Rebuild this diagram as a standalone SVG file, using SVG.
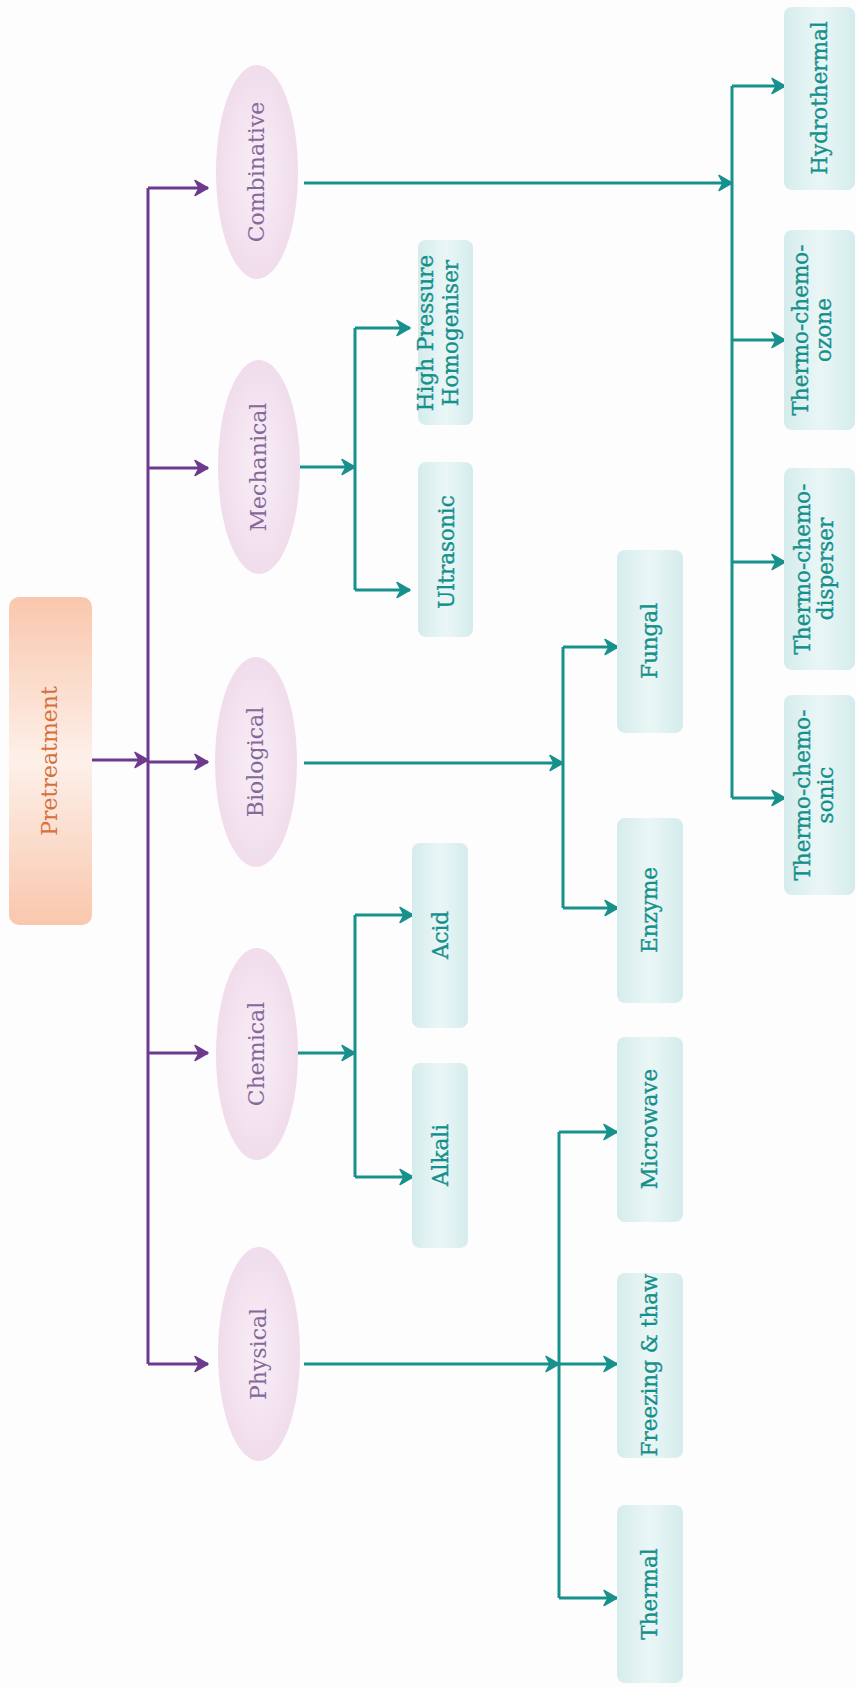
<svg xmlns="http://www.w3.org/2000/svg" width="856" height="1687" viewBox="0 0 856 1687">
<defs>
<style>
.lp{fill:none;stroke:#6d3b8e;stroke-width:3}
.lt{fill:none;stroke:#17918d;stroke-width:3}
.ap{marker-end:url(#mp)}
.at{marker-end:url(#mt)}
.ell{fill:url(#gE)}
.box{fill:url(#gT)}
.te{font-family:"DejaVu Serif","Liberation Serif",serif;font-size:22px;fill:#86689a;text-anchor:middle}
.tt{font-family:"DejaVu Serif","Liberation Serif",serif;font-size:21.5px;fill:#14908c;stroke:#14908c;stroke-width:0.35;text-anchor:middle}
.tp{font-family:"DejaVu Serif","Liberation Serif",serif;font-size:22px;fill:#d4713e;text-anchor:middle}
</style>
<radialGradient id="gE" cx="0.5" cy="0.5" r="0.6">
<stop offset="0" stop-color="#f8eef7"/>
<stop offset="1" stop-color="#efd9ea"/>
</radialGradient>
<linearGradient id="gT" x1="0" y1="0" x2="1" y2="0">
<stop offset="0" stop-color="#d5ecec"/>
<stop offset="0.5" stop-color="#eaf6f6"/>
<stop offset="1" stop-color="#d5ecec"/>
</linearGradient>
<linearGradient id="gP" x1="0" y1="0" x2="0" y2="1">
<stop offset="0" stop-color="#f9c7ad"/>
<stop offset="0.5" stop-color="#fdf0e9"/>
<stop offset="1" stop-color="#f9c7ad"/>
</linearGradient>
<marker id="mp" viewBox="-16 -10 18 20" markerWidth="18" markerHeight="20" refX="0" refY="0" orient="auto" markerUnits="userSpaceOnUse">
<path d="M-13,-7.5 L0,0 L-13,7.5 L-9,0 z" fill="#6d3b8e" stroke="#6d3b8e" stroke-width="1.5" stroke-linejoin="round"/>
</marker>
<marker id="mt" viewBox="-16 -10 18 20" markerWidth="18" markerHeight="20" refX="0" refY="0" orient="auto" markerUnits="userSpaceOnUse">
<path d="M-13,-7.5 L0,0 L-13,7.5 L-9,0 z" fill="#17918d" stroke="#17918d" stroke-width="1.5" stroke-linejoin="round"/>
</marker>
</defs>
<rect x="0" y="0" width="856" height="1687" fill="#fdfdfd"/>

<g id="connectors">
<path class="lp ap" d="M92,760 H148"/>
<path class="lp" d="M148,188 V1364"/>
<path class="lp ap" d="M148,188 H208"/>
<path class="lp ap" d="M148,468 H208"/>
<path class="lp ap" d="M148,762 H208"/>
<path class="lp ap" d="M148,1053 H208"/>
<path class="lp ap" d="M148,1364 H208"/>

<path class="lt at" d="M304,183 H732"/>
<path class="lt" d="M732,86 V798"/>
<path class="lt at" d="M732,86 H785"/>
<path class="lt at" d="M732,340 H785"/>
<path class="lt at" d="M732,562 H785"/>
<path class="lt at" d="M732,798 H785"/>

<path class="lt at" d="M298,467 H355"/>
<path class="lt" d="M355,328 V590"/>
<path class="lt at" d="M355,328 H410"/>
<path class="lt at" d="M355,590 H410"/>

<path class="lt at" d="M304,763 H563"/>
<path class="lt" d="M563,647 V908"/>
<path class="lt at" d="M563,647 H618"/>
<path class="lt at" d="M563,908 H618"/>

<path class="lt at" d="M298,1053 H355"/>
<path class="lt" d="M355,915 V1177"/>
<path class="lt at" d="M355,915 H413"/>
<path class="lt at" d="M355,1177 H413"/>

<path class="lt at" d="M304,1364 H559"/>
<path class="lt" d="M559,1132 V1598"/>
<path class="lt at" d="M559,1132 H617"/>
<path class="lt at" d="M559,1364 H617"/>
<path class="lt at" d="M559,1598 H617"/>
</g>

<g id="pretreatment">
<rect x="9" y="597" width="83" height="328" rx="10" fill="url(#gP)"/>
<text class="tp" transform="translate(57,761) rotate(-90)">Pretreatment</text>
</g>

<g id="combinative">
<ellipse class="ell" cx="257" cy="172" rx="41" ry="107"/>
<text class="te" transform="translate(264,172) rotate(-90)">Combinative</text>
</g>
<g id="mechanical">
<ellipse class="ell" cx="259" cy="467" rx="41" ry="107"/>
<text class="te" transform="translate(266,467) rotate(-90)">Mechanical</text>
</g>
<g id="biological">
<ellipse class="ell" cx="256" cy="762" rx="41" ry="105"/>
<text class="te" transform="translate(263,762) rotate(-90)">Biological</text>
</g>
<g id="chemical">
<ellipse class="ell" cx="257" cy="1054" rx="41" ry="106"/>
<text class="te" transform="translate(264,1054) rotate(-90)">Chemical</text>
</g>
<g id="physical">
<ellipse class="ell" cx="259" cy="1354" rx="41" ry="107"/>
<text class="te" transform="translate(266,1354) rotate(-90)">Physical</text>
</g>

<g id="hph">
<rect class="box" x="418" y="240" width="55" height="185" rx="8"/>
<text class="tt" transform="translate(433,333) rotate(-90)">High Pressure</text>
<text class="tt" transform="translate(458,333) rotate(-90)">Homogeniser</text>
</g>
<g id="ultrasonic">
<rect class="box" x="418" y="462" width="55" height="175" rx="8"/>
<text class="tt" transform="translate(454,552) rotate(-90)">Ultrasonic</text>
</g>
<g id="acid">
<rect class="box" x="412" y="843" width="56" height="185" rx="8"/>
<text class="tt" transform="translate(448,935) rotate(-90)">Acid</text>
</g>
<g id="alkali">
<rect class="box" x="412" y="1063" width="56" height="185" rx="8"/>
<text class="tt" transform="translate(448,1155) rotate(-90)">Alkali</text>
</g>
<g id="fungal">
<rect class="box" x="617" y="550" width="66" height="183" rx="8"/>
<text class="tt" transform="translate(657,641) rotate(-90)">Fungal</text>
</g>
<g id="enzyme">
<rect class="box" x="617" y="818" width="66" height="185" rx="8"/>
<text class="tt" transform="translate(657,910) rotate(-90)">Enzyme</text>
</g>
<g id="microwave">
<rect class="box" x="617" y="1037" width="66" height="185" rx="8"/>
<text class="tt" transform="translate(657,1129) rotate(-90)">Microwave</text>
</g>
<g id="freezing">
<rect class="box" x="617" y="1273" width="66" height="185" rx="8"/>
<text class="tt" transform="translate(657,1365) rotate(-90)">Freezing &amp; thaw</text>
</g>
<g id="thermal">
<rect class="box" x="617" y="1505" width="66" height="178" rx="8"/>
<text class="tt" transform="translate(657,1594) rotate(-90)">Thermal</text>
</g>
<g id="hydrothermal">
<rect class="box" x="784" y="7" width="71" height="183" rx="8"/>
<text class="tt" transform="translate(827,98) rotate(-90)">Hydrothermal</text>
</g>
<g id="tc-ozone">
<rect class="box" x="784" y="230" width="71" height="200" rx="8"/>
<text class="tt" transform="translate(808,330) rotate(-90)">Thermo-chemo-</text>
<text class="tt" transform="translate(831,330) rotate(-90)">ozone</text>
</g>
<g id="tc-disperser">
<rect class="box" x="784" y="468" width="71" height="202" rx="8"/>
<text class="tt" transform="translate(810,569) rotate(-90)">Thermo-chemo-</text>
<text class="tt" transform="translate(833,569) rotate(-90)">disperser</text>
</g>
<g id="tc-sonic">
<rect class="box" x="784" y="695" width="71" height="200" rx="8"/>
<text class="tt" transform="translate(810,795) rotate(-90)">Thermo-chemo-</text>
<text class="tt" transform="translate(833,795) rotate(-90)">sonic</text>
</g>
</svg>
